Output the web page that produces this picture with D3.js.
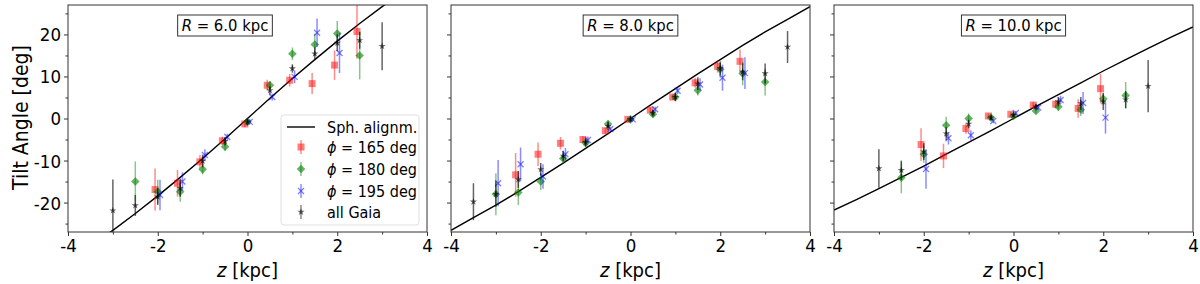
<!DOCTYPE html>
<html>
<head>
<meta charset="utf-8">
<script src="https://cdn.jsdelivr.net/npm/d3@7"></script>
<style>
  body { margin: 0; background: #fff; }
  text { font-family: "DejaVu Sans Condensed", "DejaVu Sans", sans-serif; font-stretch: condensed; }
</style>
</head>
<body>
<div id="chart"></div>
<script>
// data: [z, tilt, error]
var radii = [6.0, 8.0, 10.0];
var xTicks = [-4, -2, 0, 2, 4];
var yTicks = [-20, -10, 0, 10, 20];

// spherical alignment curve, sampled every 0.5 kpc
var lineZ = [-4, -3.5, -3, -2.5, -2, -1.5, -1, -0.5, 0, 0.5, 1, 1.5, 2, 2.5, 3, 3.5, 4];
var lineR6 = [-33.7, -30.3, -26.6, -22.6, -18.4, -14.0, -9.5, -4.8, 0, 4.8, 9.5, 14.0, 18.4, 22.6, 26.6, 30.3, 33.7];
var lineR8 = [-26.6, -23.6, -20.6, -17.4, -14.0, -10.6, -7.1, -3.6, 0, 3.6, 7.1, 10.6, 14.0, 17.4, 20.6, 23.6, 26.6];
var lineR10 = [-21.8, -19.3, -16.7, -14.0, -11.3, -8.5, -5.7, -2.9, 0, 2.9, 5.7, 8.5, 11.3, 14.0, 16.7, 19.3, 21.8];

var r6_165 = [[-2, -16.9, 5], [-1.5, -15.4, 3.2], [-1, -10.3, 1.6], [-0.5, -5.3, 1], [0, -1.3, 0.8], [0.5, 7.9, 1.3], [1, 9.1, 1.5], [1.5, 8.3, 2.5], [2, 12.7, 3.5], [2.5, 20.7, 6.5]];
var r6_180 = [[-2.5, -15.0, 4.8], [-2, -17.4, 2.8], [-1.5, -17.4, 2.4], [-1, -12.1, 1.2], [-0.5, -6.7, 1], [0, -0.8, 0.7], [0.5, 7.9, 1], [1, 15.4, 1.5], [1.5, 17.6, 2.6], [2, 20.2, 3], [2.5, 15.0, 5.7]];
var r6_195 = [[-2, -18.2, 3.6], [-1.5, -15.0, 2.2], [-1, -8.7, 1.4], [-0.5, -4.4, 0.8], [0, -0.8, 0.6], [0.5, 5.1, 0.8], [1, 9.9, 1.5], [1.5, 20.4, 3.4], [2, 15.6, 4.8]];
var r6_all = [[-3, -21.9, 7.4], [-2.5, -20.7, 2.5], [-2, -18.6, 2], [-1.5, -16.6, 2], [-1, -10.1, 1.5], [-0.5, -5.4, 1], [0, -0.8, 0.7], [0.5, 6.7, 1], [1, 11.9, 1], [1.5, 15.4, 1.5], [2, 18.0, 2], [2.5, 18.6, 2], [3, 17.2, 5.7]];

var r8_165 = [[-2.5, -13.4, 5.2], [-2, -8.5, 2.8], [-1.5, -5.9, 1.5], [-1, -5.0, 0.8], [-0.5, -2.9, 0.7], [0, -0.2, 0.5], [0.5, 2.0, 0.7], [1, 5.1, 0.7], [1.5, 8.5, 1.2], [2, 12.4, 1.5], [2.5, 13.6, 2.8]];
var r8_180 = [[-3, -18.0, 5], [-2.5, -17.6, 3], [-2, -15.0, 2], [-1.5, -9.5, 1.3], [-1, -5.8, 0.8], [-0.5, -1.3, 0.8], [0, -0.2, 0.5], [0.5, 1.0, 0.7], [1, 5.1, 0.7], [1.5, 6.7, 1.2], [2, 11.7, 2], [2.5, 10.7, 2.8], [3, 8.7, 3.2]];
var r8_195 = [[-3, -15.4, 5.5], [-2.5, -10.9, 4], [-2, -13.8, 2.9], [-1.5, -8.5, 1.5], [-1, -5.1, 0.8], [-0.5, -2.5, 0.6], [0, -0.2, 0.5], [0.5, 2.2, 0.6], [1, 6.6, 0.8], [1.5, 8.1, 1.5], [2, 9.7, 3.1], [2.5, 10.8, 3.8]];
var r8_all = [[-3.5, -19.8, 4.4], [-3, -18.0, 3], [-2.5, -14.5, 2], [-2, -12.1, 1.5], [-1.5, -8.9, 1.2], [-1, -5.7, 1], [-0.5, -1.8, 1], [0, -0.2, 0.5], [0.5, 1.3, 0.8], [1, 5.1, 1], [1.5, 8.3, 1.5], [2, 11.9, 1.5], [2.5, 11.1, 2], [3, 10.7, 2.4], [3.5, 17.0, 3.8]];

var r10_165 = [[-2, -6.2, 3.9], [-1.5, -8.9, 2.9], [-1, -2.4, 1.2], [-0.5, 0.6, 0.6], [0, 1.0, 0.5], [0.5, 3.2, 0.8], [1, 3.4, 1], [1.5, 2.4, 2.2], [2, 7.1, 3.5]];
var r10_180 = [[-2.5, -14.1, 3.7], [-2, -8.5, 2], [-1.5, -1.6, 2], [-1, 0.0, 1.2], [-0.5, 0.2, 0.6], [0, 0.6, 0.5], [0.5, 1.8, 0.6], [1, 2.8, 1], [1.5, 2.1, 1.5], [2, 4.7, 1.5], [2.5, 5.5, 3.2]];
var r10_195 = [[-2, -12.0, 4.7], [-1.5, -4.7, 1.5], [-1, -4.0, 1.2], [-0.5, -0.6, 0.5], [0, 1.3, 0.5], [0.5, 2.6, 0.6], [1, 4.4, 1], [1.5, 3.7, 2.6], [2, 0.2, 3.8]];
var r10_all = [[-3, -11.9, 4.6], [-2.5, -12.3, 2.3], [-2, -7.9, 2], [-1.5, -3.6, 1.5], [-1, -1.3, 1], [-0.5, 0.2, 0.6], [0, 0.8, 0.5], [0.5, 2.8, 0.6], [1, 4.0, 1], [1.5, 3.6, 1.5], [2, 4.0, 2], [2.5, 4.5, 2], [3, 7.7, 6.2]];

var panels = [
  { R: radii[0], line: lineR6, s: [r6_165, r6_180, r6_195, r6_all], boxX: 225 },
  { R: radii[1], line: lineR8, s: [r8_165, r8_180, r8_195, r8_all], boxX: null },
  { R: radii[2], line: lineR10, s: [r10_165, r10_180, r10_195, r10_all], boxX: null }
];

var seriesNames = ["165", "180", "195", "all Gaia"];
var seriesColor = ["red", "green", "blue", "black"];
var seriesAlpha = [0.5, 0.6, 0.5, 0.6];
var seriesShift = [-0.06, 0, 0.05, 0];

var svgWidth = 1200;
var svgHeight = 284;
var panelLeft = [68, 451, 834];
var panelW = 359;
var marginTop = 5;
var panelH = 227;

var svg = d3.select("#chart")
  .append("svg")
  .attr("width", svgWidth)
  .attr("height", svgHeight);

var x = d3.scaleLinear().domain([-4, 4]).range([0, panelW]);
var y = d3.scaleLinear().domain([-27.0, 27.0]).range([panelH, 0]);

function marker(g, i, cx, cy) {
  var col = seriesColor[i], a = seriesAlpha[i];
  if (i == 0) {
    g.append("rect").attr("x", cx - 3.5).attr("y", cy - 3.5).attr("width", 7).attr("height", 7)
      .attr("fill", col).attr("opacity", a);
  } else if (i == 1) {
    g.append("path").attr("d", `M${cx},${cy - 4.3}L${cx + 4.3},${cy}L${cx},${cy + 4.3}L${cx - 4.3},${cy}Z`)
      .attr("fill", col).attr("opacity", a);
  } else if (i == 2) {
    g.append("path").attr("d", `M${cx - 3},${cy - 3}L${cx + 3},${cy + 3}M${cx - 3},${cy + 3}L${cx + 3},${cy - 3}`)
      .attr("stroke", col).attr("stroke-width", 1.3).attr("fill", "none").attr("opacity", a);
  } else {
    g.append("path").attr("d", d3.symbol().type(d3.symbolStar).size(16)())
      .attr("transform", `translate(${cx},${cy})`)
      .attr("fill", col).attr("opacity", a);
  }
}

panels.forEach(function(p, k) {
  var chartGroup = svg.append("g")
    .attr("transform", `translate(${panelLeft[k]}, ${marginTop})`);

  chartGroup.append("clipPath").attr("id", "clip" + k)
    .append("rect").attr("width", panelW).attr("height", panelH);

  var plot = chartGroup.append("g").attr("clip-path", `url(#clip${k})`);

  // spherical alignment line
  var lineGen = d3.line()
    .x((d, i) => x(lineZ[i]))
    .y(d => y(d));
  plot.append("path")
    .datum(p.line)
    .attr("d", lineGen)
    .attr("fill", "none")
    .attr("stroke", "black")
    .attr("stroke-width", 1.4);

  // error bars and markers
  p.s.forEach(function(ser, i) {
    ser.forEach(function(d) {
      var cx = x(d[0] + seriesShift[i]);
      plot.append("line")
        .attr("x1", cx).attr("x2", cx)
        .attr("y1", y(d[1] - d[2])).attr("y2", y(d[1] + d[2]))
        .attr("stroke", seriesColor[i])
        .attr("stroke-width", 1.5)
        .attr("opacity", i == 3 ? 0.6 : 0.45);
      marker(plot, i, cx, y(d[1]));
    });
  });

  // axes
  var bottomAxis = d3.axisBottom(x).tickValues(xTicks).tickSize(4).tickPadding(3)
    .tickFormat(d => d < 0 ? "-" + Math.abs(d) : String(d));
  var xMinor = d3.axisBottom(x).tickValues([-3, -1, 1, 3]).tickSize(2.5).tickFormat("");
  var leftAxis = d3.axisLeft(y).tickValues(yTicks).tickSize(4).tickPadding(3)
    .tickFormat(d => k == 0 ? (d < 0 ? "-" + Math.abs(d) : String(d)) : "");
  var yMinor = d3.axisLeft(y).tickValues([-25, -15, -5, 5, 15, 25]).tickSize(2.5).tickFormat("");

  var gx = chartGroup.append("g").attr("transform", `translate(0, ${panelH})`).call(bottomAxis);
  chartGroup.append("g").attr("transform", `translate(0, ${panelH})`).call(xMinor);
  var gy = chartGroup.append("g").call(leftAxis);
  chartGroup.append("g").call(yMinor);

  chartGroup.selectAll(".domain").remove();
  chartGroup.selectAll(".tick line").attr("stroke", "#333");
  gx.selectAll("text").style("font-size", "18.5px").attr("fill", "black").attr("font-family", null);
  gy.selectAll("text").style("font-size", "18.5px").attr("fill", "black").attr("font-family", null).attr("dy", "0.35em");

  chartGroup.append("rect")
    .attr("width", panelW).attr("height", panelH)
    .attr("fill", "none").attr("stroke", "#333").attr("stroke-width", 1);

  // x label
  var xl = chartGroup.append("text")
    .attr("x", panelW / 2).attr("y", panelH + 45)
    .attr("text-anchor", "middle")
    .style("font-size", "20px");
  xl.append("tspan").style("font-style", "italic").text("z");
  xl.append("tspan").text(" [kpc]");

  // R box
  var bx = p.boxX == null ? panelW / 2 : p.boxX - panelLeft[k];
  var box = chartGroup.append("rect");
  var t = chartGroup.append("text")
    .attr("x", bx).attr("y", 26)
    .attr("text-anchor", "middle")
    .style("font-size", "16.5px");
  t.append("tspan").style("font-style", "italic").text("R");
  t.append("tspan").text(" = " + p.R.toFixed(1) + " kpc");
  var bb = t.node().getBBox();
  box.attr("x", bb.x - 4).attr("y", 10).attr("width", bb.width + 8).attr("height", 21)
    .attr("fill", "white").attr("stroke", "#333").attr("stroke-width", 1);

  // legend in first panel
  if (k == 0) {
    var lg = chartGroup.append("g").attr("transform", "translate(213, 110)");
    lg.append("rect").attr("width", 138).attr("height", 110).attr("rx", 3)
      .attr("fill", "white").attr("stroke", "#ddd").attr("opacity", 0.9);
    var rows = [12, 32, 54, 76, 97];
    lg.append("line").attr("x1", 6).attr("x2", 34).attr("y1", rows[0]).attr("y2", rows[0])
      .attr("stroke", "black").attr("stroke-width", 1.4);
    lg.append("text").attr("x", 46).attr("y", rows[0]).attr("dy", "0.35em")
      .style("font-size", "16px").text("Sph. alignm.");
    seriesNames.forEach(function(n, i) {
      var ry = rows[i + 1];
      lg.append("line").attr("x1", 20).attr("x2", 20).attr("y1", ry - 7).attr("y2", ry + 7)
        .attr("stroke", seriesColor[i]).attr("stroke-width", 1.5).attr("opacity", 0.45);
      marker(lg, i, 20, ry);
      var tx = lg.append("text").attr("x", 46).attr("y", ry).attr("dy", "0.35em")
        .style("font-size", "16px");
      if (i < 3) {
        tx.append("tspan").style("font-style", "italic").text("ϕ");
        tx.append("tspan").text(" = " + n + " deg");
      } else {
        tx.text(n);
      }
    });
  }
});

// y label
svg.append("text")
  .attr("transform", "rotate(-90)")
  .attr("x", -(marginTop + panelH / 2) + 1)
  .attr("y", 28)
  .attr("text-anchor", "middle")
  .style("font-size", "21px")
  .text("Tilt Angle [deg]");
</script>
</body>
</html>
